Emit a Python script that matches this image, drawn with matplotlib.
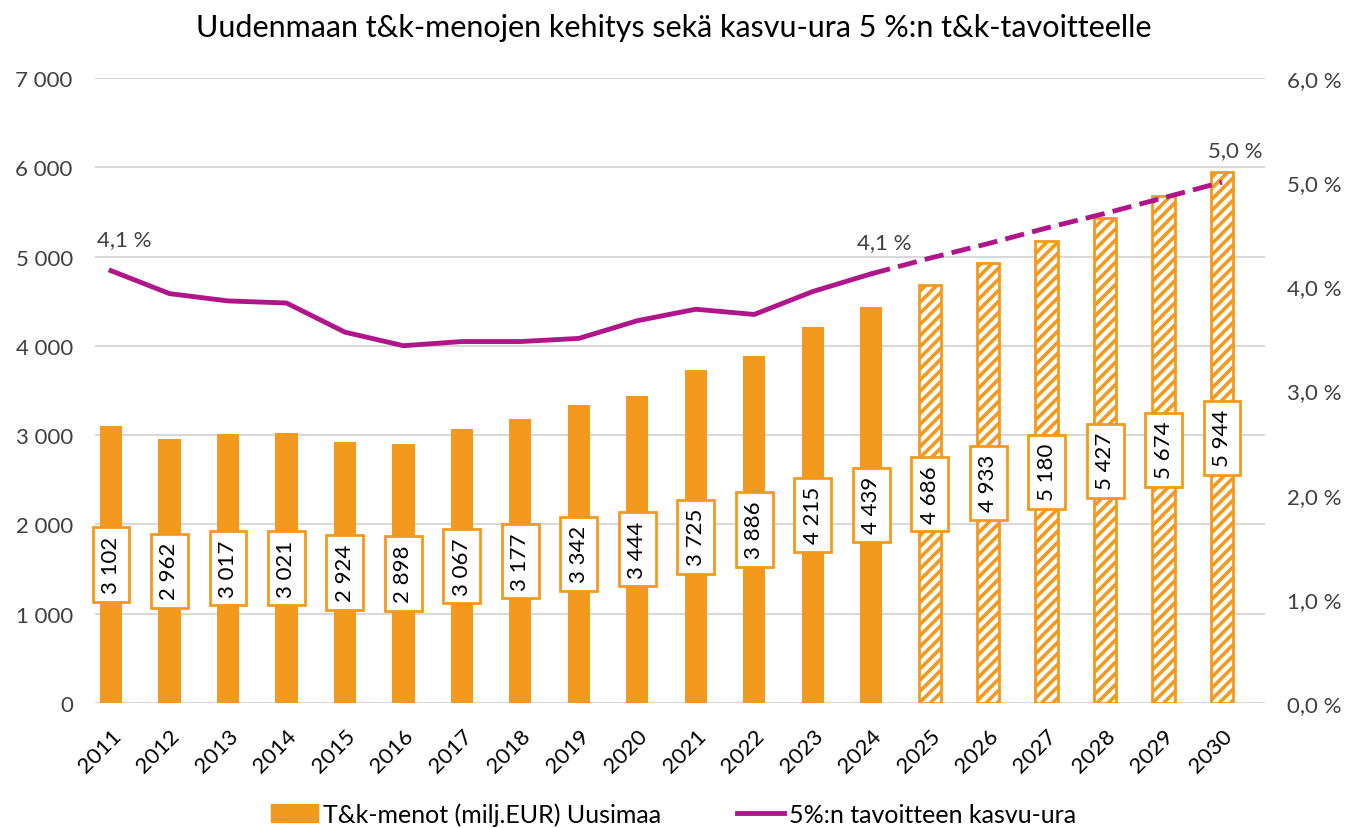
import numpy as np
import matplotlib.pyplot as plt
from matplotlib.lines import Line2D
from matplotlib.patches import Patch

plt.rcParams['font.family'] = ['Lato', 'DejaVu Sans']
plt.rcParams['hatch.linewidth'] = 2.6

years = [str(y) for y in range(2011, 2031)]
spend = [3102, 2962, 3017, 3021, 2924, 2898, 3067, 3177, 3342, 3444,
         3725, 3886, 4215, 4439, 4686, 4933, 5180, 5427, 5674, 5944]
share = [4.15, 3.93, 3.86, 3.84, 3.56, 3.43, 3.47, 3.47, 3.50, 3.67,
         3.78, 3.73, 3.95, 4.12, 4.27, 4.41, 4.56, 4.70, 4.85, 5.0]
n_actual = 14  # 2011-2024 actual, rest projected

orange = '#F39A1E'
purple = '#B0168A'
grid_c = '#D9D9D9'
text_c = '#404040'

fig = plt.figure(figsize=(13.47, 8.29), dpi=100)
ax = fig.add_axes([95 / 1347, 125 / 829, 1170 / 1347, 625 / 829])
ax2 = ax.twinx()

x = np.arange(len(years))
w = 0.38
ax.bar(x[:n_actual], spend[:n_actual], width=w, color=orange, zorder=2)
ax.bar(x[n_actual:], spend[n_actual:], width=w, color='white', edgecolor=orange,
       hatch='///', linewidth=2, zorder=2)

for xi, v in zip(x, spend):
    ax.text(xi, v / 2, f"{v:,}".replace(',', ' '), rotation=90, ha='center', va='center',
            fontsize=16, color='black', zorder=5,
            bbox=dict(boxstyle='square,pad=0.38', fc='white', ec=orange, lw=2))

ax.set_xlim(-0.274, 19.735)
ax.set_ylim(0, 7000)
ax.set_yticks(range(0, 7001, 1000))
ax.set_yticklabels([f"{v:,}".replace(',', ' ') for v in range(0, 7001, 1000)])
ax.yaxis.grid(True, color=grid_c, lw=1.5, zorder=0)
ax.set_axisbelow(True)
ax.set_xticks(x)
ax.set_xticklabels(years, rotation=45, ha='right', rotation_mode='anchor')
ax.tick_params(axis='x', length=0, labelsize=16, colors='black', pad=16)
ax.tick_params(axis='y', length=0, labelsize=16, colors=text_c, pad=16)
for s in ax.spines.values():
    s.set_visible(False)
for s in ax2.spines.values():
    s.set_visible(False)

ax2.plot(x[:n_actual], share[:n_actual], color=purple, lw=3.5, zorder=4)
ax2.plot(x[n_actual - 1:], share[n_actual - 1:], color=purple, lw=3.5,
         ls=(0, (4, 1.7)), zorder=4)
ax2.set_ylim(0, 6)
ax2.set_yticks(range(0, 7))
ax2.set_yticklabels([f"{v},0 %" for v in range(0, 7)])
ax2.tick_params(axis='y', length=0, labelsize=16, colors=text_c, pad=16)

for i, lab in [(0, "4,1 %"), (13, "4,1 %"), (19, "5,0 %")]:
    ax2.annotate(lab, (x[i], share[i]), xytext=(9.5, 23), textcoords='offset points',
                 ha='center', va='center', fontsize=16, color=text_c)

fig.text(0.5, 1 - 28 / 829, "Uudenmaan t&k-menojen kehitys sekä kasvu-ura 5 %:n t&k-tavoitteelle",
         ha='center', va='center', fontsize=22, color='black')

handles = [Patch(color=orange, label='T&k-menot (milj.EUR) Uusimaa'),
           Line2D([0], [0], color=purple, lw=3.5, label='5%:n tavoitteen kasvu-ura')]
fig.legend(handles=handles, loc='center', bbox_to_anchor=(0.5, 1 - 815 / 829), ncol=2,
           frameon=False, fontsize=18, handlelength=1.9, columnspacing=3, handletextpad=0.2)

fig.savefig('out.png', dpi=100)
